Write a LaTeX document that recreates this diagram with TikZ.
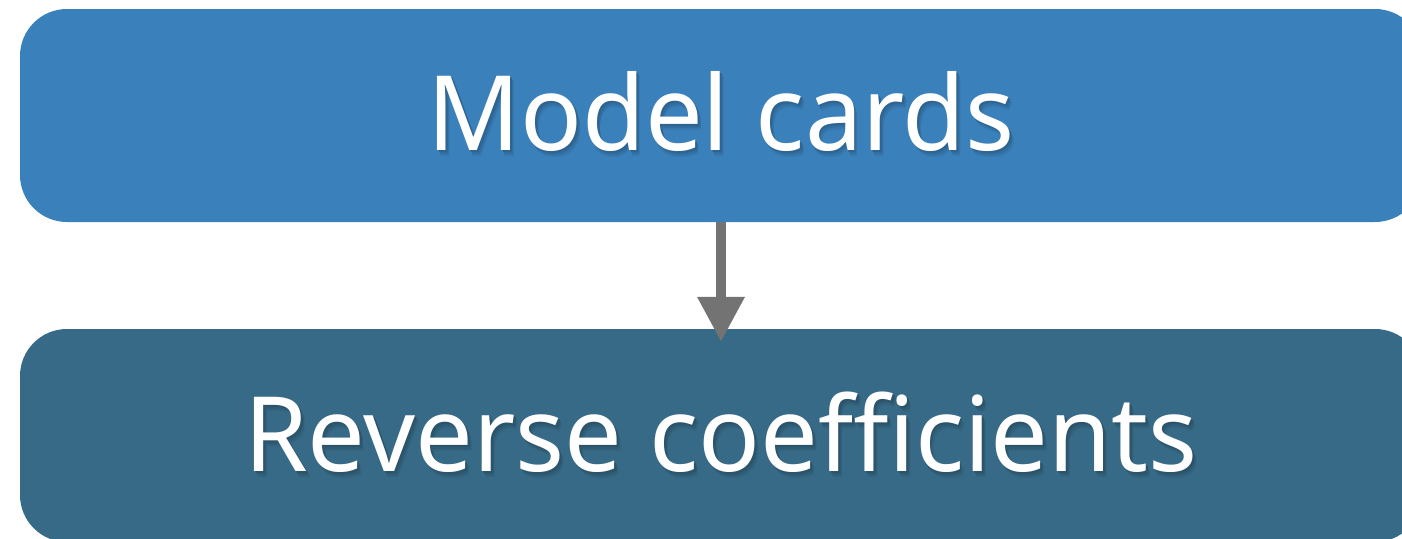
\documentclass[tikz,border=0pt]{standalone}
\usepackage{fontspec}
\setmainfont{Noto Sans}
\usetikzlibrary{arrows.meta}
\definecolor{cardblue}{HTML}{3A80BA}
\definecolor{coefblue}{HTML}{376A87}
\definecolor{arrowgray}{HTML}{737373}
\tikzset{
  stagebox/.style={rectangle, rounded corners=47pt, draw=none,
    minimum width=1402pt, minimum height=213pt, inner sep=0pt},
  stagetext/.style={inner sep=0pt, anchor=base,
    font=\fontsize{104pt}{120pt}\selectfont},
  flowarrow/.style={draw=arrowgray, line width=10pt,
    -{Triangle[width=45pt, length=45pt]}},
}
% white label with a soft shadow tinted from the box colour (#1)
\newcommand{\liftedlabel}[2]{%
  \scalebox{0.985}[1]{%
    \makebox[0pt][l]{\hspace*{4pt}\raisebox{-6pt}{\textcolor{#1!93!black}{#2}}}%
    \makebox[0pt][l]{\hspace*{3pt}\raisebox{-4pt}{\textcolor{#1!86!black}{#2}}}%
    \makebox[0pt][l]{\hspace*{2pt}\raisebox{-2pt}{\textcolor{#1!78!black}{#2}}}%
    \textcolor{white}{#2}}}
\begin{document}
\begin{tikzpicture}[x=1pt, y=-1pt]
\useasboundingbox (0,0) rectangle (1402,538);
\clip (0,0) rectangle (1402,538);
% the two stages
\node[stagebox, fill=cardblue] (cards) at (721,115.5) {};
\node[stagebox, fill=coefblue] (coef) at (721,435.5) {};
% labels
\node[stagetext] (cardslabel) at (721,150) {\liftedlabel{cardblue}{Model cards}};
\node[stagetext] (coeflabel) at (721,471) {\liftedlabel{coefblue}{Reverse coefficients}};
% connector
\coordinate (tip) at ([yshift=-13pt]coef.north);
\draw[flowarrow] (cards.south) -- (tip);
\end{tikzpicture}
\end{document}
